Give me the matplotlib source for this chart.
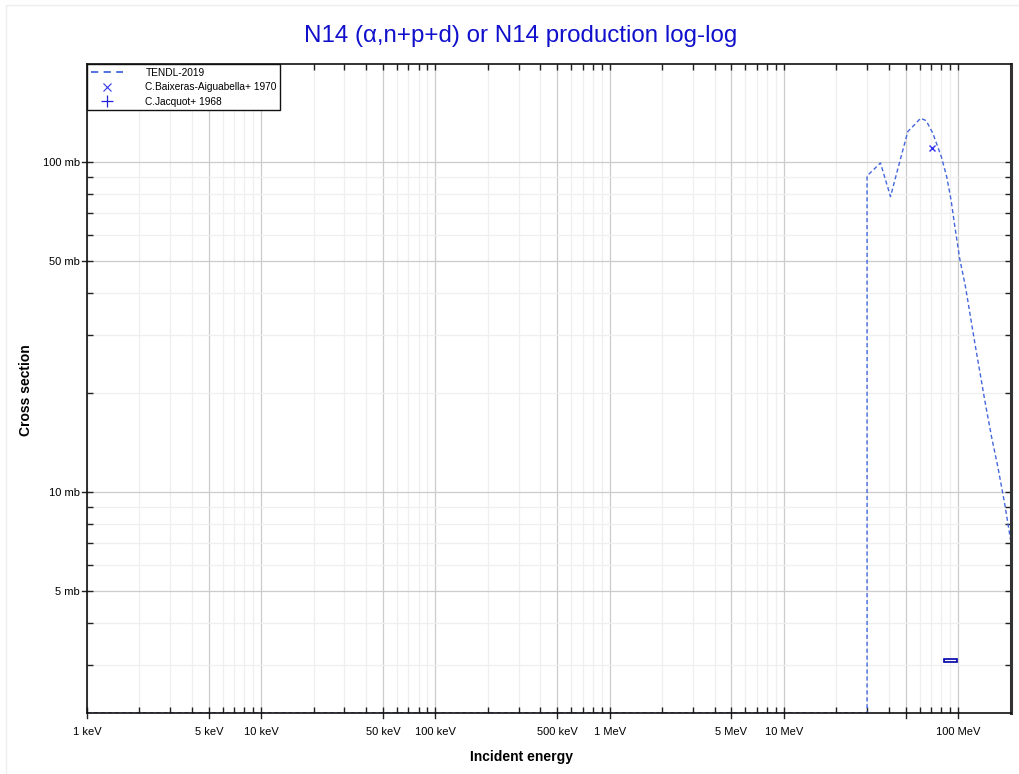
import numpy as np
import matplotlib
matplotlib.use("Agg")
import matplotlib.pyplot as plt
from matplotlib.patches import Rectangle
from matplotlib.ticker import FixedLocator, NullFormatter
from matplotlib.lines import Line2D

plt.rcParams['font.family'] = ['Liberation Sans', 'DejaVu Sans']

# TENDL-2019 evaluated curve (energy in MeV, cross section in mb)
tendl_e = [0.001, 30.0, 30.0, 35.8, 40.9, 45.0, 51.4, 56.0, 60.8, 65.5,
           71.6, 80.0, 86.0, 91.0, 96.0, 102.0, 110.0, 125.0, 142.0,
           155.0, 169.0, 185.0, 200.0]
tendl_xs = [2.14, 2.14, 90.7, 99.3, 78.5, 95.1, 123.6, 129.4, 135.6, 133.4,
            122.0, 103.8, 90.0, 76.7, 63.0, 51.0, 42.0, 28.0, 19.0,
            14.8, 11.9, 9.2, 7.15]

# C.Baixeras-Aiguabella+ 1970
baix_e = [71.0]
baix_xs = [110.0]

# C.Jacquot+ 1968 (with energy / cross section uncertainties)
jacq_e = [91.0]
jacq_de = [8.0]
jacq_xs = [3.085]
jacq_dxs = [0.035]

# axis ticks
xmajor = [1e-3, 5e-3, 1e-2, 5e-2, 1e-1, 5e-1, 1, 5, 10, 50, 100]
xlabels = ['1 keV', '5 keV', '10 keV', '50 keV', '100 keV', '500 keV',
           '1 MeV', '5 MeV', '10 MeV', '', '100 MeV']
ymajor = [5, 10, 50, 100]
ylabels = ['5 mb', '10 mb', '50 mb', '100 mb']

fig = plt.figure(figsize=(10.2, 7.74), dpi=100)
ax = fig.add_axes([87/1020, 61/774, 924/1020, 649/774])

# faint frame around the figure
fig.patches.append(Rectangle((6/1020, -0.01), 1.0, (774-5)/774 + 0.01,
                             transform=fig.transFigure, fill=False,
                             edgecolor='#eeeeee', lw=1))

ax.set_xscale('log')
ax.set_yscale('log')
ax.set_xlim(1e-3, 201)
ax.set_ylim(2.14, 198)

# grid lines
ax.grid(which='major', color='#cccccc', lw=0.9)
ax.grid(which='minor', color='#efefef', lw=0.9)
ax.set_axisbelow(True)

# data
ax.plot(tendl_e, tendl_xs, ls=(0, (3, 2)), color='#4466dd', lw=1)
ax.plot(baix_e, baix_xs, ls='none', marker='x', ms=4, mew=1,
        color='#3333ee')
for e, de, s, ds in zip(jacq_e, jacq_de, jacq_xs, jacq_dxs):
    ax.add_patch(Rectangle((e - de, s - ds), 2*de, 2*ds, fill=False,
                           edgecolor='#0000aa', lw=1.2))

# ticks (inward on all sides)
xminor = [m*10.0**k for k in range(-3, 3) for m in (2, 3, 4, 6, 7, 8, 9)]
xminor = [v for v in xminor if v < 201]
yminor = [m*10.0**k for k in range(0, 3) for m in (2, 3, 4, 6, 7, 8, 9)]
yminor = [v for v in yminor if 2.14 < v < 198]

ax.xaxis.set_major_locator(FixedLocator(xmajor))
ax.xaxis.set_minor_locator(FixedLocator(xminor))
ax.set_xticklabels(xlabels)
ax.xaxis.set_minor_formatter(NullFormatter())
ax.yaxis.set_major_locator(FixedLocator(ymajor))
ax.yaxis.set_minor_locator(FixedLocator(yminor))
ax.set_yticklabels(ylabels)
ax.yaxis.set_minor_formatter(NullFormatter())

ax.tick_params(which='both', direction='in', length=4, width=1,
               top=True, right=True, color='#222222')
ax.tick_params(axis='x', which='major', labelsize=8, pad=10)
ax.tick_params(axis='y', which='major', labelsize=8, pad=5)

# outward half of the major ticks on the bottom and left
out_x = 5 / 649
out_y = 5 / 924
for xv in xmajor:
    ax.plot([xv, xv], [-out_x, 0], transform=ax.get_xaxis_transform(),
            color='#222222', lw=1, clip_on=False)
for yv in ymajor:
    ax.plot([-out_y, 0], [yv, yv], transform=ax.get_yaxis_transform(),
            color='#222222', lw=1, clip_on=False)

for side in ['left', 'bottom', 'top']:
    ax.spines[side].set_color('#111111')
    ax.spines[side].set_linewidth(1.2)
ax.spines['right'].set_color('#333333')
ax.spines['right'].set_linewidth(2.2)

fig.text(522/1020, 1 - 757/774, 'Incident energy', ha='center',
         va='center', fontsize=10, fontweight='bold')
fig.text(26/1020, 1 - 390/774, 'Cross section', ha='center', va='center',
         rotation=90, fontsize=10, fontweight='bold')
fig.text(521/1020, 1 - 36/774, 'N14 (α,n+p+d) or N14 production log-log',
         ha='center', va='center', fontsize=17.4, color='#1010cc')

# legend
handles = [Line2D([], [], ls=(0, (4, 3)), color='#4466dd', lw=1.3),
           Line2D([], [], ls='none', marker='x', ms=6, mew=0.8,
                  color='#3333ee'),
           Line2D([], [], ls='none', marker='+', ms=9, mew=0.9,
                  color='#2222dd')]
leg = ax.legend(handles, ['TENDL-2019', 'C.Baixeras-Aiguabella+ 1970',
                          'C.Jacquot+ 1968'],
                loc='upper left', bbox_to_anchor=(0, 1), borderaxespad=0,
                fontsize=7.3, fancybox=False, framealpha=1, handlelength=3.2,
                labelspacing=0.45, borderpad=0.35, handletextpad=2.2)
leg.get_frame().set_edgecolor('#111111')
leg.get_frame().set_linewidth(1)
leg.set_zorder(5)

fig.savefig('out.png', dpi=100)
